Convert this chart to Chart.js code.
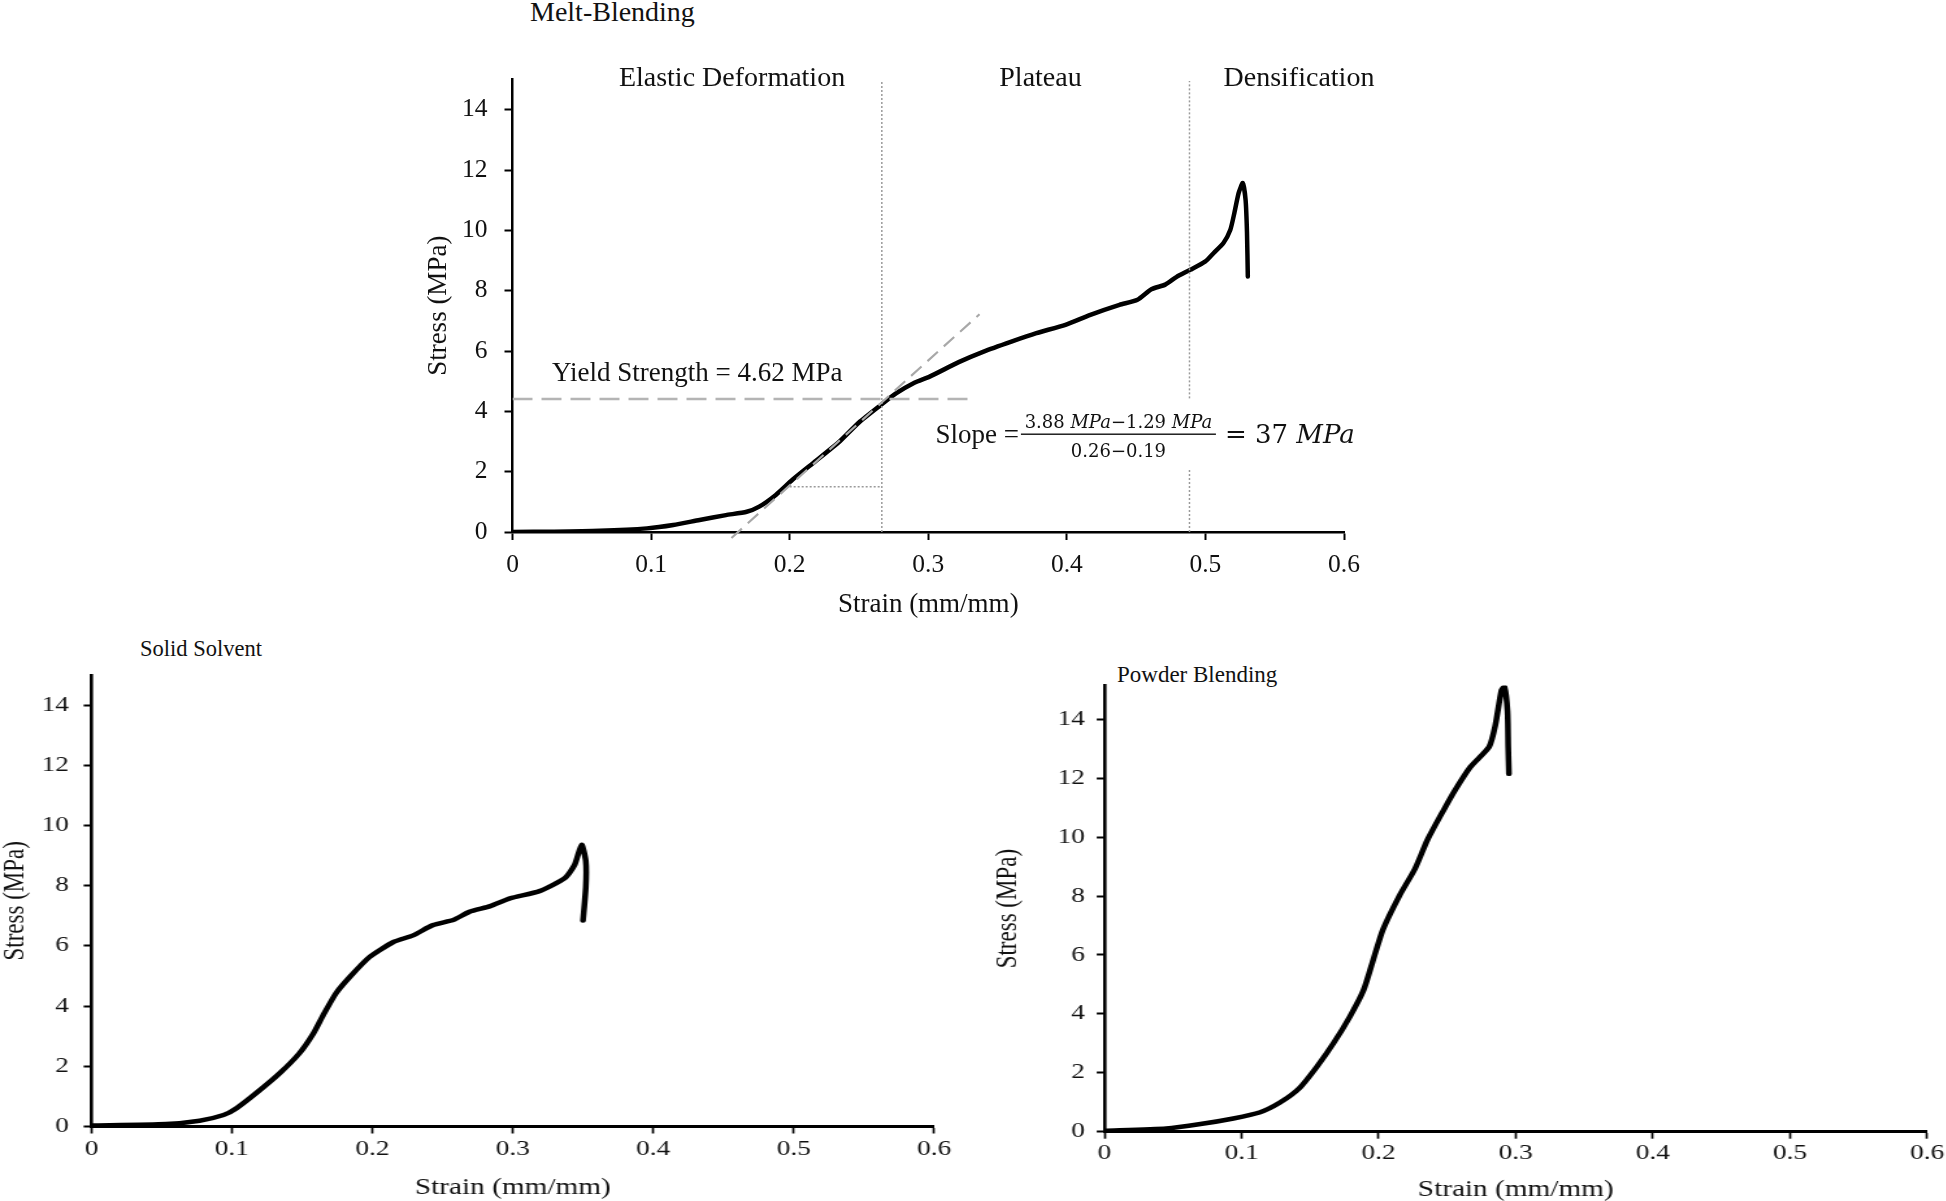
<!DOCTYPE html>
<html>
<head>
<meta charset="utf-8">
<title>Stress-strain curves</title>
<script src="https://cdn.jsdelivr.net/npm/chart.js@4.4.1/dist/chart.umd.min.js"></script>
<style>
  body { margin: 0; background: #fff; }
  #page { position: relative; width: 1946px; height: 1201px; overflow: hidden; background: #fff; }
  canvas { position: absolute; }
  .panel-title { position: absolute; font-family: 'Liberation Serif', 'Times New Roman', serif; color: #111; line-height: 1; white-space: nowrap; }
</style>
</head>
<body>
<div id="page">
  <div class="panel-title" style="left:530px;top:-2.5px;font-size:28px">Melt-Blending</div>
  <div class="panel-title" style="left:140px;top:638px;font-size:22.5px">Solid Solvent</div>
  <div class="panel-title" style="left:1117px;top:663px;font-size:23px">Powder Blending</div>
  <canvas id="meltChart" width="1040" height="605" style="left:380px;top:30px;width:1040px;height:605px"></canvas>
  <canvas id="solidChart" width="738" height="575" style="left:0px;top:630px;width:959.4px;height:575px"></canvas>
  <canvas id="powderChart" width="760" height="566" style="left:990px;top:640px;width:988px;height:566px"></canvas>
</div>
<script>
// tick labels
var strainTicks = ['0', '0.1', '0.2', '0.3', '0.4', '0.5', '0.6'];
var stressTicks = ['0', '2', '4', '6', '8', '10', '12', '14'];

// Melt-Blending curve
var mbStrain = [0, 0.03, 0.063, 0.097, 0.116, 0.135, 0.154, 0.169, 0.178, 0.19, 0.202, 0.219, 0.236, 0.25, 0.265, 0.277,
    0.29, 0.301, 0.322, 0.34, 0.36, 0.378, 0.399, 0.417, 0.438, 0.451, 0.461, 0.471, 0.479, 0.489, 0.5, 0.506, 0.513,
    0.518, 0.521, 0.524, 0.527, 0.529, 0.53, 0.5306];
var mbStress = [0, 0.01, 0.04, 0.12, 0.23, 0.4, 0.56, 0.67, 0.84, 1.23, 1.73, 2.36, 3.0, 3.63, 4.18, 4.6,
    4.95, 5.15, 5.63, 5.98, 6.31, 6.59, 6.87, 7.2, 7.53, 7.7, 8.05, 8.2, 8.45, 8.69, 8.97, 9.25, 9.58,
    10.02, 10.6, 11.24, 11.57, 11.0, 9.92, 8.47];

// Solid Solvent curve
var ssStrain = [0, 0.053, 0.077, 0.094, 0.103, 0.117, 0.134, 0.148, 0.158, 0.165, 0.174, 0.184, 0.198, 0.215, 0.229,
    0.243, 0.258, 0.269, 0.284, 0.298, 0.319, 0.337, 0.344, 0.349, 0.352, 0.352, 0.35];
var ssStress = [0.03, 0.08, 0.19, 0.38, 0.6, 1.1, 1.77, 2.43, 3.09, 3.7, 4.42, 4.97, 5.63, 6.13, 6.35,
    6.69, 6.87, 7.13, 7.32, 7.58, 7.82, 8.25, 8.69, 9.36, 8.81, 7.95, 6.84];

// Powder Blending curve
var pbStrain = [0, 0.045, 0.07, 0.094, 0.113, 0.128, 0.142, 0.155, 0.167, 0.179, 0.189, 0.196, 0.203, 0.215, 0.2265,
    0.2355, 0.2468, 0.2558, 0.267, 0.2805, 0.285, 0.2896, 0.2918, 0.294, 0.2945, 0.295];
var pbStress = [0.03, 0.11, 0.26, 0.45, 0.65, 0.99, 1.47, 2.21, 3.0, 3.91, 4.81, 5.83, 6.85, 8.0, 8.93,
    9.9, 10.87, 11.6, 12.39, 13.06, 13.78, 14.99, 15.1, 14.27, 13.06, 12.15];

// guide lines on the Melt-Blending panel
var yieldStrain = [0, 0.3345];
var yieldStress = [4.41, 4.41];
var elasticStrain = [0.158, 0.337];
var elasticStress = [-0.2, 7.22];
var slopeGuideStrain = [0.2, 0.2665];
var slopeGuideStress = [1.5, 1.5];
var boundaryStrain = [0.2665, 0.4885];
var boundaryTop = 14.95;
var densGapStress = [2.12, 4.43];

var serif = "'Liberation Serif', 'Times New Roman', serif";
Chart.defaults.font.family = serif;
Chart.defaults.color = '#111';

function toPoints(xs, ys) {
    return xs.map(function (x, i) { return { x: x, y: ys[i] }; });
}

function curve(xs, ys, width) {
    return {
        data: toPoints(xs, ys), showLine: true, borderColor: '#000', borderWidth: width,
        pointRadius: 0, tension: 0.2, borderJoinStyle: 'round', borderCapStyle: 'round'
    };
}

function guide(xs, ys, color, width, dash) {
    return { data: toPoints(xs, ys), showLine: true, borderColor: color, borderWidth: width, borderDash: dash, pointRadius: 0 };
}

function buildScales(o) {
    return {
        x: {
            type: 'linear', min: 0, max: 0.6,
            afterFit: function (scale) { scale.height = o.xHeight; },
            ticks: {
                stepSize: 0.1, padding: o.xTickPad, color: '#111',
                font: { size: o.tickSize, lineHeight: o.tickLH },
                callback: function (v) { return strainTicks[Math.round(v * 10)]; }
            },
            grid: { drawOnChartArea: false, tickLength: o.xTickLen, tickWidth: o.xTickW, tickColor: '#000' },
            border: { color: '#000', width: o.xBorder },
            title: { display: true, text: 'Strain (mm/mm)', color: '#111', padding: 0, font: { size: o.titleSize, lineHeight: 1.2 } }
        },
        y: {
            type: 'linear', min: 0, max: o.yMax,
            afterFit: function (scale) { scale.width = o.yWidth; },
            ticks: {
                stepSize: 2, includeBounds: false, padding: o.yTickPad, color: '#111',
                font: { size: o.tickSize, lineHeight: o.tickLH },
                callback: function (v) { return stressTicks[Math.round(v / 2)]; }
            },
            grid: { drawOnChartArea: false, tickLength: o.yTickLen, tickWidth: 2, tickColor: '#000' },
            border: { color: '#000', width: o.yBorder },
            title: { display: true, text: 'Stress (MPa)', color: '#111', padding: 0, font: { size: o.yTitleSize, lineHeight: o.yTitleLH } }
        }
    };
}

function drawMath(ctx, parts, x, y, size, align) {
    var fonts = parts.map(function (p) { return (p[1] ? 'italic ' : '') + size + 'px "DejaVu Serif"'; });
    var total = 0;
    var widths = parts.map(function (p, i) {
        ctx.font = fonts[i];
        var w = ctx.measureText(p[0]).width;
        total += w;
        return w;
    });
    var cx = align === 'center' ? x - total / 2 : x;
    ctx.textAlign = 'left';
    parts.forEach(function (p, i) {
        ctx.font = fonts[i];
        ctx.fillText(p[0], cx, y);
        cx += widths[i];
    });
}

// text notes of the Melt-Blending panel
var meltNotes = {
    id: 'meltNotes',
    afterDatasetsDraw: function (chart) {
        var ctx = chart.ctx, xs = chart.scales.x, ys = chart.scales.y;
        ctx.save();
        ctx.fillStyle = '#111';
        ctx.textBaseline = 'alphabetic';
        ctx.textAlign = 'center';
        ctx.font = '28px ' + serif;
        var phaseY = ys.getPixelForValue(14.8);
        ctx.fillText('Elastic Deformation', xs.getPixelForValue(0.1584), phaseY);
        ctx.fillText('Plateau', xs.getPixelForValue(0.381), phaseY);
        ctx.fillText('Densification', xs.getPixelForValue(0.5675), phaseY);

        ctx.textAlign = 'left';
        ctx.font = '27px ' + serif;
        ctx.fillText('Yield Strength = 4.62 MPa', xs.getPixelForValue(0.0285), ys.getPixelForValue(4.99));

        // slope formula
        var x0 = xs.getPixelForValue(0.3052), yb = ys.getPixelForValue(2.95);
        ctx.fillText('Slope =', x0, yb);
        var barL = x0 + ctx.measureText('Slope =').width + 2;
        var barR = barL + 195;
        ctx.fillRect(barL, yb - 9.5, barR - barL, 1.4);
        var mid = (barL + barR) / 2;
        drawMath(ctx, [['3.88 ', false], ['MPa', true], ['\u2212', false], ['1.29 ', false], ['MPa', true]], mid, yb - 15, 18, 'center');
        drawMath(ctx, [['0.26\u22120.19', false]], mid, yb + 13.5, 18, 'center');
        drawMath(ctx, [['= 37 ', false], ['MPa', true]], barR + 9, yb, 26, 'left');
        ctx.restore();
    }
};

function baseOptions(padding, scales) {
    return {
        responsive: false, animation: false, devicePixelRatio: 1,
        layout: { padding: padding },
        plugins: { legend: { display: false }, tooltip: { enabled: false } },
        scales: scales
    };
}

window.onload = function () {
    new Chart(document.getElementById('meltChart'), {
        type: 'scatter',
        data: {
            datasets: [
                guide(yieldStrain, yieldStress, '#b4b4b4', 2.5, [20, 9]),
                Object.assign(guide(elasticStrain, elasticStress, '#a8a8a8', 2.2, [14, 8]), { clip: false }),
                guide(slopeGuideStrain, slopeGuideStress, '#9a9a9a', 1.5, [2, 2]),
                guide([boundaryStrain[0], boundaryStrain[0]], [0, boundaryTop], '#9a9a9a', 1.5, [2, 2]),
                guide([boundaryStrain[1], boundaryStrain[1]], [0, densGapStress[0]], '#9a9a9a', 1.5, [2, 2]),
                guide([boundaryStrain[1], boundaryStrain[1]], [densGapStress[1], boundaryTop], '#9a9a9a', 1.5, [2, 2]),
                curve(mbStrain, mbStress, 4.5)
            ]
        },
        options: baseOptions({ left: 43, right: 76, top: 49.5, bottom: 14 }, buildScales({
            xHeight: 89, xTickPad: 10, tickSize: 25.5, tickLH: 1.2, xTickLen: 8, xTickW: 2, xBorder: 2.5, titleSize: 27,
            yWidth: 89.5, yTickPad: 17, yTickLen: 8, yBorder: 2.5, yTitleSize: 27, yTitleLH: 1.2, yMax: 15
        })),
        plugins: [meltNotes]
    });

    // lower panels are drawn narrow and stretched 1.3x wide by css, like the original figure
    new Chart(document.getElementById('solidChart'), {
        type: 'scatter',
        data: { datasets: [curve(ssStrain, ssStress, 4.5)] },
        options: baseOptions({ left: 2.9, right: 19.15, top: 45, bottom: 3.7 }, buildScales({
            xHeight: 74.8, xTickPad: 5, tickSize: 21, tickLH: 1, xTickLen: 7, xTickW: 1.7, xBorder: 3, titleSize: 22.5,
            yWidth: 67.48, yTickPad: 11.5, yTickLen: 6, yBorder: 2.6, yTitleSize: 23, yTitleLH: 0.8, yMax: 15
        }))
    });

    new Chart(document.getElementById('powderChart'), {
        type: 'scatter',
        data: { datasets: [curve(pbStrain, pbStress, 4.5)] },
        options: baseOptions({ left: 4.8, right: 39.23, top: 45.5, bottom: 2.3 }, buildScales({
            xHeight: 72, xTickPad: 4, tickSize: 21, tickLH: 1, xTickLen: 7, xTickW: 1.7, xBorder: 3, titleSize: 22.5,
            yWidth: 83.28, yTickPad: 9, yTickLen: 6, yBorder: 2.6, yTitleSize: 23, yTitleLH: 0.8, yMax: 15.15
        }))
    });
};
</script>
</body>
</html>
